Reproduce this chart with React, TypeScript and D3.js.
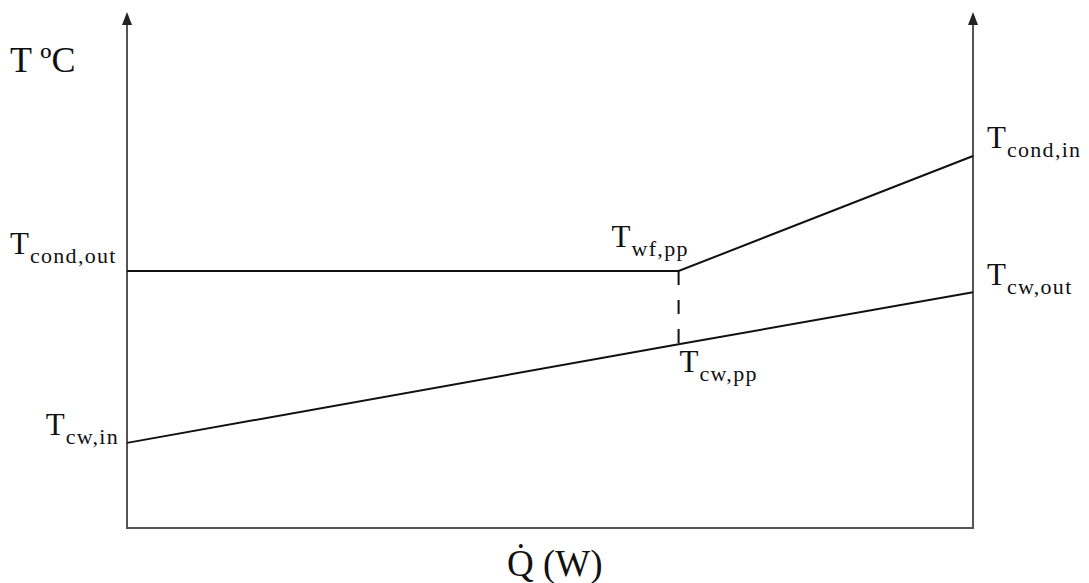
import React from 'react';
import * as d3 from 'd3';

// heat transferred (0 = cold water inlet, 100 = condenser inlet), temperature in arbitrary units
const qPoints = [0, 65.2, 100];
const hotSide = [49.8, 49.8, 72.1];   // condensing working fluid
const coldSide = [16.5, 35.6, 45.7];  // cooling water

const W = 1089;
const H = 583;
const margin = { left: 127, right: 116, top: 12, bottom: 55 };

const x = d3.scaleLinear().domain([0, 100]).range([margin.left, W - margin.right]);
const y = d3.scaleLinear().domain([0, 100]).range([H - margin.bottom, margin.top]);

const font = 'Liberation Serif';

const Label = ({ px, py, sub, anchor = 'start' }: any) => (
  <text x={px} y={py} fontFamily={font} fontSize={31} fill="#111" textAnchor={anchor}>
    T<tspan fontSize={22} letterSpacing={1.3} dx={1} dy={9}>{sub}</tspan>
  </text>
);

export default function App() {
  const hot = qPoints.map((q, i) => [q, hotSide[i]] as [number, number]);
  const cold = qPoints.map((q, i) => [q, coldSide[i]] as [number, number]);
  const line = d3.line<[number, number]>().x(d => x(d[0])).y(d => y(d[1]));
  const x0 = x(0), x1 = x(100), yb = y(0), yt = y(100);
  const pp = qPoints[1];

  const arrow = (ax: number) => `M${ax},${yt} L${ax - 5},${yt + 13} L${ax + 5},${yt + 13} Z`;

  return (
    <svg width={W} height={H} style={{ position: 'absolute', left: 0, top: 0, background: '#fff' }}>
      {/* axes */}
      <g stroke="#555" strokeWidth={2} fill="none">
        <line x1={x0} y1={yb} x2={x0} y2={yt + 8} />
        <line x1={x1} y1={yb} x2={x1} y2={yt + 8} />
        <line x1={x0 - 1} y1={yb} x2={x1 + 1} y2={yb} />
      </g>
      <path d={arrow(x0)} fill="#222" />
      <path d={arrow(x1)} fill="#222" />

      {/* profiles */}
      <path d={line(hot) || ''} stroke="#111" strokeWidth={2} fill="none" />
      <path d={line(cold) || ''} stroke="#111" strokeWidth={2} fill="none" />
      <line x1={x(pp)} x2={x(pp)} y1={y(hotSide[1])} y2={y(coldSide[1])}
        stroke="#111" strokeWidth={2} strokeDasharray="14,15" />

      {/* labels */}
      <text x={10} y={72} fontFamily={font} fontSize={36} fill="#111">T ºC</text>
      <Label px={10} py={y(hotSide[0]) - 17} sub="cond,out" />
      <Label px={x(pp) - 67} py={y(hotSide[1]) - 24} sub="wf,pp" />
      <Label px={x(pp) + 1} py={y(coldSide[1]) + 28} sub="cw,pp" />
      <Label px={x(100) + 14} py={y(hotSide[2]) - 8} sub="cond,in" />
      <Label px={x(100) + 14} py={y(coldSide[2]) - 7} sub="cw,out" />
      <Label px={x(0) - 8} py={y(coldSide[0]) - 8} sub="cw,in" anchor="end" />

      <text x={507} y={576} fontFamily={font} fontSize={37} fill="#111">
        Q&#775; (W)
      </text>
    </svg>
  );
}
